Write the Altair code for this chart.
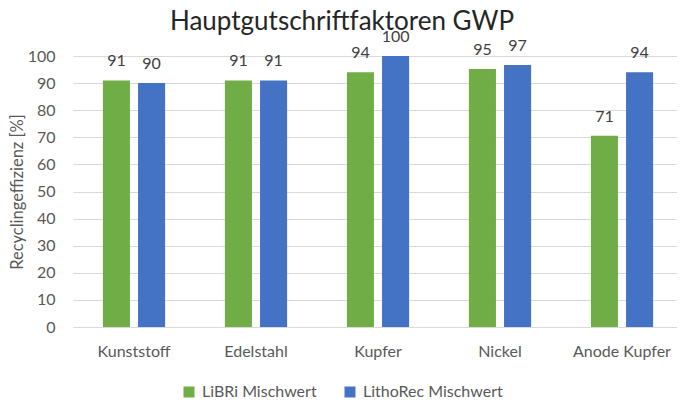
import altair as alt
import pandas as pd

categories = ["Kunststoff", "Edelstahl", "Kupfer", "Nickel", "Anode Kupfer"]
series_names = ["LiBRi Mischwert", "LithoRec Mischwert"]
libri = [91, 91, 94, 95.2, 70.6]
lithorec = [90, 91, 100, 96.7, 94]
y_ticks = [0, 10, 20, 30, 40, 50, 60, 70, 80, 90, 100]
colors = ["#70AD47", "#4472C4"]

rows = []
for c, a, b in zip(categories, libri, lithorec):
    rows.append({"Kategorie": c, "Serie": series_names[0], "Wert": a})
    rows.append({"Kategorie": c, "Serie": series_names[1], "Wert": b})
df = pd.DataFrame(rows)

FONT = "Lato"

x = alt.X("Kategorie:N", sort=categories,
          scale=alt.Scale(range=[0, 610], paddingInner=0.49, paddingOuter=0.245),
          axis=alt.Axis(title=None, labelAngle=0, ticks=False, tickSize=0,
                        domain=True, domainColor="#D9D9D9", domainWidth=1,
                        labelFontSize=16, labelColor="#595959", labelFont=FONT,
                        labelPadding=16, grid=False))
xo = alt.XOffset("Serie:N", sort=series_names,
                 scale=alt.Scale(paddingInner=0.23, paddingOuter=0))
y = alt.Y("Wert:Q", scale=alt.Scale(domain=[0, 100], nice=False),
          axis=alt.Axis(title="Recyclingeffizienz [%]", values=y_ticks,
                        ticks=False, tickSize=0, domain=False,
                        grid=True, gridColor="#D9D9D9", gridWidth=1,
                        labelFontSize=16, labelColor="#595959", labelFont=FONT,
                        labelPadding=18,
                        titleFontSize=16.5, titleColor="#595959", titleFont=FONT,
                        titleFontWeight="normal", titlePadding=2))
color = alt.Color("Serie:N", sort=series_names,
                  scale=alt.Scale(domain=series_names, range=colors),
                  legend=alt.Legend(title=None, orient="none", legendX=108, legendY=328,
                                    direction="horizontal", symbolType="square",
                                    symbolSize=121, symbolStrokeWidth=0,
                                    labelFontSize=16, labelColor="#595959",
                                    labelFont=FONT, labelOffset=5, columnPadding=25))

base = alt.Chart(df)
bars = base.mark_bar().encode(x=x, xOffset=xo, y=y, color=color)
labels = base.mark_text(baseline="alphabetic", dy=-14, fontSize=16,
                        color="#404040", font=FONT).encode(
    x=x, xOffset=xo, y=y, text=alt.Text("Wert:Q", format=".0f"))

chart = alt.layer(bars, labels).properties(
    width=604, height=271,
    title=alt.TitleParams("Hauptgutschriftfaktoren GWP", font=FONT, fontSize=26,
                          fontWeight="normal", color="#262626", anchor="middle",
                          dx=-33, dy=12, offset=6),
    autosize=alt.AutoSizeParams(type="none"),
    padding={"left": 65, "top": 48, "right": 0, "bottom": 76},
).configure_view(stroke=None)

chart.save("out.html", embed_options={"renderer": "svg", "actions": False})
